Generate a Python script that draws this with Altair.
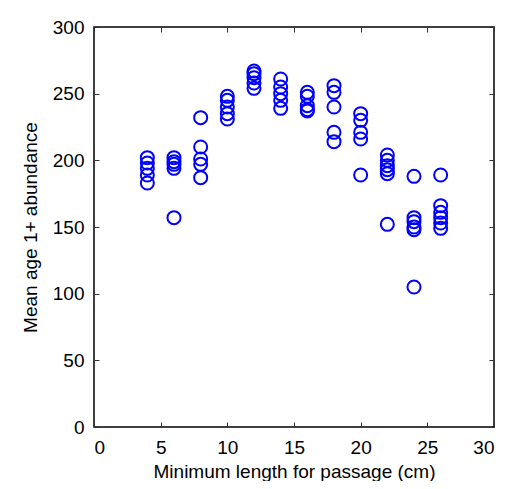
import altair as alt
import pandas as pd

# Minimum length for passage (cm) and mean age 1+ abundance per run
x4 = [4, 4, 4, 4, 4]
y4 = [202, 198, 194, 189, 183]
x6 = [6, 6, 6, 6, 6]
y6 = [202, 199, 197, 194, 157]
x8 = [8, 8, 8, 8, 8]
y8 = [232, 210, 201, 197, 187]
x10 = [10, 10, 10, 10, 10]
y10 = [248, 245, 240, 235, 231]
x12 = [12, 12, 12, 12, 12]
y12 = [267, 265, 262, 258, 254]
x14 = [14, 14, 14, 14, 14]
y14 = [261, 255, 250, 245, 239]
x16 = [16, 16, 16, 16, 16]
y16 = [251, 248, 241, 238, 237]
x18 = [18, 18, 18, 18, 18]
y18 = [256, 251, 240, 221, 214]
x20 = [20, 20, 20, 20, 20]
y20 = [235, 230, 221, 216, 189]
x22 = [22, 22, 22, 22, 22, 22]
y22 = [204, 200, 196, 193, 190, 152]
x24 = [24, 24, 24, 24, 24, 24]
y24 = [188, 157, 154, 150, 148, 105]
x26 = [26, 26, 26, 26, 26, 26]
y26 = [189, 166, 161, 157, 153, 149]

xs = x4 + x6 + x8 + x10 + x12 + x14 + x16 + x18 + x20 + x22 + x24 + x26
ys = y4 + y6 + y8 + y10 + y12 + y14 + y16 + y18 + y20 + y22 + y24 + y26
df = pd.DataFrame({"len": xs, "abund": ys})

FONT = "Liberation Sans"
xscale = alt.Scale(domain=[0, 30], nice=False, zero=False)
yscale = alt.Scale(domain=[0, 300], nice=False, zero=False)
xvals = [0, 5, 10, 15, 20, 25, 30]
yvals = [0, 50, 100, 150, 200, 250, 300]

points = alt.Chart(df).mark_point(
    shape="circle", filled=False, color="#0000FF", size=170, strokeWidth=2, opacity=1
).encode(
    x=alt.X("len:Q", scale=xscale,
            axis=alt.Axis(orient="bottom", values=xvals, title="Minimum length for passage (cm)",
                          offset=-5, tickSize=5, labelPadding=11, titlePadding=5)),
    y=alt.Y("abund:Q", scale=yscale,
            axis=alt.Axis(orient="left", values=yvals, title="Mean age 1+ abundance",
                          offset=-5, tickSize=5, labelPadding=10, titlePadding=12)),
)

ghost = alt.Chart(df).mark_point(opacity=0).encode(
    x=alt.X("len:Q", scale=xscale,
            axis=alt.Axis(orient="top", values=xvals, labels=False, title=None,
                          offset=-5, tickSize=5)),
    y=alt.Y("abund:Q", scale=yscale,
            axis=alt.Axis(orient="right", values=yvals, labels=False, title=None,
                          offset=-5, tickSize=5)),
)

chart = alt.layer(ghost, points).resolve_axis(x="independent", y="independent").properties(
    width=400, height=400,
    autosize=alt.AutoSizeParams(type="none"),
    padding={"left": 86, "top": 19, "right": 10, "bottom": 54},
    background="white",
).configure_view(
    stroke="black", strokeWidth=1.5
).configure_axis(
    domain=False, grid=False, tickColor="#333333", tickWidth=1,
    labelFont=FONT, labelFontSize=19, labelColor="black",
    titleFont=FONT, titleFontSize=19, titleFontWeight="normal", titleColor="black",
)

chart.save("out.html", embed_options={"renderer": "svg", "actions": False})
